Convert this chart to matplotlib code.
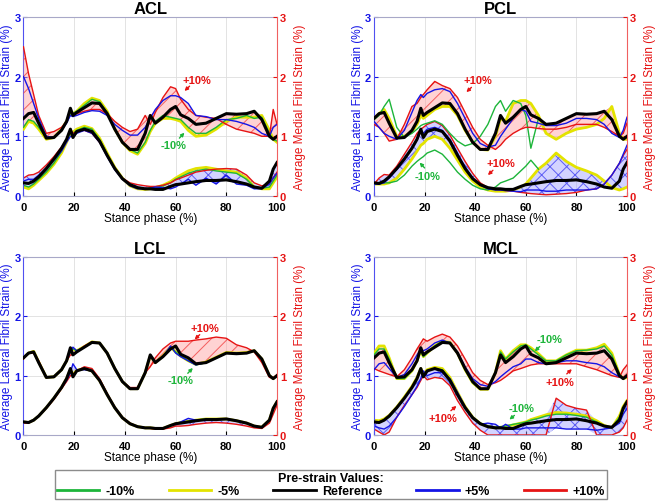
import numpy as np
import matplotlib
matplotlib.use('Agg')
import matplotlib.pyplot as plt
from matplotlib.lines import Line2D

plt.rcParams['font.family'] = ['Liberation Sans', 'DejaVu Sans']
plt.rcParams['font.weight'] = 'bold'
plt.rcParams['hatch.linewidth'] = 0.7

# stance phase sample points (%)
stance = [0, 2, 4, 6, 9, 12, 15, 17, 18.5, 19.5,
          21, 24, 27, 30, 33, 36, 39, 42, 45, 48,
          50, 52, 55, 58, 60, 62, 65, 68, 72, 76,
          80, 84, 88, 91, 94, 97, 98.5, 100]

# reference model (same in every panel)
ref_med = [1.30, 1.38, 1.40, 1.22, 0.97, 0.98, 1.10, 1.25, 1.47, 1.35,
           1.40, 1.48, 1.56, 1.55, 1.38, 1.12, 0.90, 0.78, 0.78, 1.05,
           1.35, 1.22, 1.32, 1.45, 1.50, 1.36, 1.30, 1.20, 1.22, 1.30,
           1.38, 1.37, 1.38, 1.42, 1.28, 1.00, 0.95, 1.00]
ref_lat = [0.22, 0.21, 0.25, 0.32, 0.46, 0.62, 0.80, 0.95, 1.12, 0.98,
           1.08, 1.12, 1.08, 0.92, 0.68, 0.46, 0.29, 0.19, 0.14, 0.12,
           0.12, 0.11, 0.11, 0.16, 0.19, 0.20, 0.22, 0.24, 0.26, 0.26,
           0.27, 0.24, 0.20, 0.15, 0.13, 0.25, 0.45, 0.56]

# ---- ACL
acl_med_m10 = [1.15, 1.28, 1.25, 1.15, 0.97, 0.98, 1.12, 1.25, 1.38, 1.38,
               1.42, 1.52, 1.62, 1.58, 1.40, 1.12, 0.90, 0.78, 0.72, 0.90,
               1.10, 1.25, 1.35, 1.32, 1.30, 1.28, 1.15, 1.05, 1.05, 1.15,
               1.28, 1.30, 1.35, 1.30, 1.32, 1.05, 0.95, 0.92]
acl_med_m5 = [1.12, 1.25, 1.22, 1.12, 0.95, 0.98, 1.12, 1.25, 1.40, 1.38,
              1.42, 1.55, 1.64, 1.60, 1.42, 1.12, 0.90, 0.76, 0.70, 0.88,
              1.08, 1.22, 1.30, 1.30, 1.28, 1.25, 1.10, 1.00, 1.02, 1.12,
              1.25, 1.32, 1.32, 1.32, 1.35, 1.10, 0.95, 0.90]
acl_med_p5 = [2.00, 1.80, 1.55, 1.30, 1.00, 0.98, 1.10, 1.22, 1.35, 1.33,
              1.35, 1.40, 1.43, 1.42, 1.35, 1.20, 1.10, 1.02, 1.02, 1.15,
              1.30, 1.45, 1.60, 1.68, 1.68, 1.65, 1.55, 1.35, 1.33, 1.28,
              1.28, 1.25, 1.20, 1.15, 1.05, 1.00, 1.15, 1.20]
acl_med_p10 = [2.50, 2.05, 1.70, 1.35, 1.05, 1.08, 1.15, 1.25, 1.42, 1.38,
               1.38, 1.42, 1.45, 1.45, 1.38, 1.25, 1.15, 1.08, 1.12, 1.35,
               1.20, 1.40, 1.65, 1.83, 1.80, 1.62, 1.45, 1.35, 1.32, 1.30,
               1.20, 1.12, 1.08, 1.05, 1.00, 1.00, 1.45, 1.20]
acl_lat_m10 = [0.18, 0.15, 0.20, 0.28, 0.40, 0.55, 0.75, 0.92, 1.05, 1.05,
               1.10, 1.15, 1.12, 0.95, 0.70, 0.47, 0.30, 0.18, 0.13, 0.12,
               0.13, 0.14, 0.17, 0.22, 0.28, 0.32, 0.38, 0.42, 0.45, 0.42,
               0.40, 0.38, 0.28, 0.15, 0.13, 0.15, 0.25, 0.35]
acl_lat_m5 = [0.15, 0.12, 0.18, 0.26, 0.38, 0.53, 0.72, 0.90, 1.05, 1.07,
              1.12, 1.17, 1.13, 0.97, 0.72, 0.48, 0.30, 0.17, 0.12, 0.11,
              0.12, 0.14, 0.18, 0.24, 0.30, 0.35, 0.42, 0.46, 0.48, 0.45,
              0.42, 0.40, 0.30, 0.15, 0.12, 0.12, 0.22, 0.32]
acl_lat_p5 = [0.25, 0.28, 0.28, 0.35, 0.47, 0.60, 0.75, 0.90, 1.00, 1.00,
              1.05, 1.10, 1.05, 0.90, 0.66, 0.44, 0.28, 0.17, 0.12, 0.12,
              0.13, 0.15, 0.14, 0.12, 0.15, 0.20, 0.28, 0.18, 0.30, 0.20,
              0.35, 0.20, 0.18, 0.12, 0.12, 0.20, 0.30, 0.38]
acl_lat_p10 = [0.30, 0.35, 0.36, 0.40, 0.52, 0.66, 0.82, 0.95, 1.12, 1.05,
               1.08, 1.10, 1.05, 0.90, 0.68, 0.46, 0.30, 0.22, 0.19, 0.17,
               0.16, 0.16, 0.18, 0.22, 0.27, 0.30, 0.35, 0.40, 0.43, 0.45,
               0.46, 0.45, 0.35, 0.22, 0.17, 0.20, 0.30, 0.40]

# ---- PCL (-10% run stops at 65 %)
pcl_med_m10 = [1.28, 1.35, 1.50, 1.62, 1.15, 0.98, 1.05, 1.12, 1.18, 1.20,
               1.22, 1.26, 1.20, 1.05, 0.92, 0.84, 0.88, 1.00, 1.20, 1.50,
               1.60, 1.42, 1.60, 1.55, 1.35, 0.80, 1.30, np.nan, np.nan, np.nan,
               np.nan, np.nan, np.nan, np.nan, np.nan, np.nan, np.nan, np.nan]
pcl_med_m5 = [1.30, 1.38, 1.45, 1.30, 1.00, 1.00, 1.08, 1.20, 1.35, 1.30,
              1.35, 1.45, 1.50, 1.50, 1.35, 1.10, 0.90, 0.78, 0.77, 1.00,
              1.30, 1.25, 1.55, 1.60, 1.60, 1.55, 1.35, 1.05, 0.95, 1.05,
              1.12, 1.15, 1.20, 1.30, 1.50, 1.05, 0.95, 0.95]
pcl_med_p5 = [1.25, 1.15, 1.05, 1.00, 0.95, 1.10, 1.40, 1.60, 1.70, 1.65,
              1.72, 1.78, 1.80, 1.75, 1.55, 1.30, 1.05, 0.88, 0.82, 0.85,
              1.00, 1.12, 1.30, 1.45, 1.42, 1.25, 1.22, 1.18, 1.18, 1.22,
              1.30, 1.30, 1.28, 1.20, 1.05, 0.98, 1.10, 1.32]
pcl_med_p10 = [1.20, 1.15, 1.05, 0.92, 0.95, 1.20, 1.50, 1.55, 1.65, 1.70,
               1.78, 1.92, 1.85, 1.80, 1.65, 1.40, 1.15, 0.95, 0.85, 0.78,
               0.85, 0.95, 1.05, 1.12, 1.15, 1.15, 1.13, 1.12, 1.12, 1.15,
               1.20, 1.20, 1.20, 1.15, 1.08, 1.00, 1.05, 1.22]
pcl_lat_m10 = [0.20, 0.20, 0.22, 0.22, 0.25, 0.35, 0.50, 0.58, 0.63, 0.66,
               0.72, 0.77, 0.70, 0.56, 0.40, 0.28, 0.18, 0.12, 0.10, 0.15,
               0.22, 0.25, 0.30, 0.42, 0.50, 0.60, 0.45, np.nan, np.nan, np.nan,
               np.nan, np.nan, np.nan, np.nan, np.nan, np.nan, np.nan, np.nan]
pcl_lat_m5 = [0.20, 0.20, 0.20, 0.22, 0.30, 0.45, 0.62, 0.75, 0.85, 0.88,
              0.95, 1.00, 0.95, 0.80, 0.60, 0.40, 0.25, 0.15, 0.10, 0.08,
              0.08, 0.08, 0.10, 0.15, 0.20, 0.30, 0.45, 0.55, 0.72, 0.58,
              0.48, 0.42, 0.35, 0.25, 0.14, 0.10, 0.12, 0.15]
pcl_lat_p5 = [0.20, 0.20, 0.22, 0.30, 0.45, 0.62, 0.82, 0.95, 1.10, 1.05,
              1.12, 1.15, 1.10, 0.95, 0.72, 0.48, 0.30, 0.18, 0.12, 0.10,
              0.10, 0.09, 0.08, 0.07, 0.10, 0.10, 0.10, 0.08, 0.08, 0.10,
              0.10, 0.10, 0.12, 0.20, 0.35, 0.55, 0.70, 0.85]
pcl_lat_p10 = [0.20, 0.30, 0.36, 0.35, 0.50, 0.70, 0.90, 1.05, 1.12, 1.15,
               1.20, 1.25, 1.18, 1.02, 0.80, 0.58, 0.38, 0.22, 0.14, 0.11,
               0.10, 0.09, 0.08, 0.06, 0.05, 0.04, 0.03, 0.02, 0.03, 0.04,
               0.06, 0.10, 0.12, 0.20, 0.35, 0.55, 0.68, 0.78]

# ---- LCL
lcl_med_m10 = [1.30, 1.38, 1.40, 1.22, 0.97, 0.98, 1.10, 1.25, 1.42, 1.45,
               1.42, 1.48, 1.56, 1.55, 1.38, 1.12, 0.90, 0.78, 0.78, 1.05,
               1.33, 1.22, 1.32, 1.48, 1.40, 1.33, 1.25, 1.18, 1.22, 1.30,
               1.38, 1.38, 1.38, 1.42, 1.28, 1.00, 0.95, 1.00]
lcl_med_m5 = [1.30, 1.38, 1.41, 1.23, 0.97, 0.98, 1.10, 1.25, 1.42, 1.45,
              1.42, 1.49, 1.57, 1.55, 1.38, 1.12, 0.90, 0.78, 0.78, 1.05,
              1.33, 1.22, 1.33, 1.48, 1.40, 1.33, 1.25, 1.19, 1.23, 1.31,
              1.39, 1.38, 1.39, 1.42, 1.28, 1.00, 0.95, 1.00]
lcl_med_p5 = [1.30, 1.38, 1.40, 1.22, 0.97, 0.98, 1.10, 1.25, 1.40, 1.48,
              1.42, 1.48, 1.56, 1.55, 1.38, 1.12, 0.90, 0.78, 0.78, 1.05,
              1.32, 1.22, 1.32, 1.50, 1.38, 1.32, 1.25, 1.18, 1.22, 1.30,
              1.38, 1.38, 1.38, 1.42, 1.28, 1.00, 0.95, 1.00]
lcl_med_p10 = [1.28, 1.38, 1.38, 1.25, 0.97, 0.98, 1.10, 1.25, 1.35, 1.35,
               1.40, 1.50, 1.57, 1.55, 1.38, 1.12, 0.90, 0.80, 0.80, 1.05,
               1.15, 1.30, 1.45, 1.55, 1.58, 1.58, 1.58, 1.60, 1.62, 1.65,
               1.63, 1.52, 1.47, 1.40, 1.22, 0.97, 0.96, 1.02]
lcl_lat_m10 = [0.22, 0.21, 0.25, 0.32, 0.46, 0.62, 0.80, 0.95, 1.10, 1.00,
               1.08, 1.12, 1.08, 0.92, 0.68, 0.46, 0.29, 0.19, 0.14, 0.12,
               0.12, 0.11, 0.11, 0.16, 0.19, 0.21, 0.23, 0.25, 0.27, 0.27,
               0.27, 0.24, 0.20, 0.15, 0.13, 0.25, 0.45, 0.56]
lcl_lat_m5 = [0.22, 0.21, 0.25, 0.32, 0.46, 0.62, 0.80, 0.95, 1.10, 1.02,
              1.09, 1.12, 1.08, 0.92, 0.68, 0.46, 0.29, 0.19, 0.14, 0.12,
              0.12, 0.11, 0.11, 0.16, 0.19, 0.21, 0.23, 0.25, 0.27, 0.27,
              0.27, 0.24, 0.20, 0.15, 0.13, 0.25, 0.45, 0.56]
lcl_lat_p5 = [0.22, 0.21, 0.25, 0.32, 0.46, 0.62, 0.80, 0.92, 1.05, 1.20,
              1.10, 1.10, 1.08, 0.92, 0.68, 0.46, 0.29, 0.19, 0.14, 0.12,
              0.12, 0.11, 0.11, 0.16, 0.19, 0.22, 0.28, 0.25, 0.26, 0.26,
              0.27, 0.24, 0.20, 0.15, 0.13, 0.25, 0.45, 0.56]
lcl_lat_p10 = [0.20, 0.20, 0.25, 0.32, 0.45, 0.60, 0.78, 0.90, 1.00, 1.02,
               1.08, 1.15, 1.12, 0.95, 0.70, 0.47, 0.30, 0.20, 0.14, 0.12,
               0.11, 0.10, 0.10, 0.12, 0.15, 0.15, 0.16, 0.18, 0.20, 0.21,
               0.20, 0.18, 0.15, 0.12, 0.11, 0.20, 0.35, 0.50]

# ---- MCL
mcl_med_m10 = [1.35, 1.45, 1.45, 1.28, 0.95, 0.95, 1.08, 1.25, 1.42, 1.32,
               1.38, 1.50, 1.58, 1.56, 1.38, 1.10, 0.88, 0.77, 0.77, 1.05,
               1.40, 1.28, 1.40, 1.50, 1.52, 1.45, 1.35, 1.25, 1.25, 1.35,
               1.42, 1.43, 1.45, 1.50, 1.35, 1.02, 0.95, 0.98]
mcl_med_m5 = [1.38, 1.50, 1.50, 1.30, 0.95, 0.95, 1.08, 1.25, 1.42, 1.32,
              1.38, 1.50, 1.58, 1.56, 1.38, 1.10, 0.88, 0.77, 0.77, 1.05,
              1.42, 1.28, 1.42, 1.52, 1.52, 1.47, 1.37, 1.25, 1.25, 1.35,
              1.43, 1.43, 1.47, 1.53, 1.38, 1.02, 0.95, 0.97]
mcl_med_p5 = [1.10, 1.20, 1.22, 1.12, 0.97, 1.02, 1.20, 1.35, 1.45, 1.42,
              1.45, 1.55, 1.60, 1.55, 1.40, 1.15, 0.95, 0.85, 0.82, 0.90,
              0.98, 1.05, 1.15, 1.20, 1.28, 1.28, 1.22, 1.20, 1.22, 1.25,
              1.25, 1.22, 1.20, 1.15, 1.05, 0.98, 0.95, 1.00]
mcl_med_p10 = [1.12, 1.08, 1.05, 1.02, 0.98, 1.10, 1.30, 1.45, 1.55, 1.62,
               1.58, 1.65, 1.70, 1.65, 1.50, 1.28, 1.05, 0.92, 0.85, 0.88,
               0.92, 0.98, 1.08, 1.12, 1.15, 1.18, 1.20, 1.20, 1.20, 1.20,
               1.20, 1.15, 1.10, 1.05, 1.00, 0.97, 1.10, 1.18]
mcl_lat_m10 = [0.22, 0.22, 0.25, 0.30, 0.45, 0.62, 0.80, 0.95, 1.10, 1.00,
               1.08, 1.12, 1.10, 0.95, 0.70, 0.47, 0.30, 0.20, 0.15, 0.13,
               0.14, 0.15, 0.18, 0.20, 0.22, 0.25, 0.28, 0.32, 0.35, 0.35,
               0.33, 0.30, 0.22, 0.15, 0.12, 0.30, 0.45, 0.55]
mcl_lat_m5 = [0.25, 0.24, 0.27, 0.33, 0.47, 0.64, 0.82, 0.97, 1.12, 1.02,
              1.10, 1.14, 1.12, 0.97, 0.72, 0.48, 0.30, 0.19, 0.14, 0.12,
              0.13, 0.14, 0.17, 0.20, 0.22, 0.26, 0.30, 0.34, 0.38, 0.37,
              0.35, 0.32, 0.24, 0.16, 0.12, 0.32, 0.48, 0.58]
mcl_lat_p5 = [0.15, 0.12, 0.10, 0.15, 0.30, 0.48, 0.68, 0.82, 0.95, 1.08,
              1.00, 1.05, 1.05, 0.95, 0.72, 0.48, 0.30, 0.18, 0.20, 0.18,
              0.12, 0.18, 0.10, 0.10, 0.12, 0.12, 0.12, 0.12, 0.12, 0.10,
              0.10, 0.10, 0.08, 0.10, 0.12, 0.20, 0.35, 0.45]
mcl_lat_p10 = [0.10, 0.05, 0.00, 0.05, 0.30, 0.50, 0.68, 0.80, 0.92, 1.00,
               0.93, 0.97, 0.95, 0.83, 0.58, 0.38, 0.20, 0.08, 0.00, 0.00,
               0.00, 0.00, 0.00, 0.00, 0.00, 0.00, 0.00, 0.00, 0.62, 0.50,
               0.45, 0.42, 0.00, 0.00, 0.00, 0.05, 0.12, 0.25]

level_names = ['-10%', '-5%', 'Reference', '+5%', '+10%']

GREEN = '#1db53a'
YELLOW = '#e3e300'
BLUE = '#1414e6'
RED = '#e61414'
level_colors = [GREEN, YELLOW, 'black', BLUE, RED]

panels = {
    'ACL': ([acl_lat_m10, acl_lat_m5, ref_lat, acl_lat_p5, acl_lat_p10],
            [acl_med_m10, acl_med_m5, ref_med, acl_med_p5, acl_med_p10]),
    'PCL': ([pcl_lat_m10, pcl_lat_m5, ref_lat, pcl_lat_p5, pcl_lat_p10],
            [pcl_med_m10, pcl_med_m5, ref_med, pcl_med_p5, pcl_med_p10]),
    'LCL': ([lcl_lat_m10, lcl_lat_m5, ref_lat, lcl_lat_p5, lcl_lat_p10],
            [lcl_med_m10, lcl_med_m5, ref_med, lcl_med_p5, lcl_med_p10]),
    'MCL': ([mcl_lat_m10, mcl_lat_m5, ref_lat, mcl_lat_p5, mcl_lat_p10],
            [mcl_med_m10, mcl_med_m5, ref_med, mcl_med_p5, mcl_med_p10]),
}

# axes rectangles [left, bottom, width, height] in figure fraction
rects = {
    'ACL': [0.0357, 0.6076, 0.3853, 0.3566],
    'PCL': [0.5684, 0.6076, 0.3845, 0.3566],
    'LCL': [0.0357, 0.1315, 0.3853, 0.3546],
    'MCL': [0.5684, 0.1315, 0.3845, 0.3546],
}

# (label, colour, text position, arrow tail, arrow tip)
notes = {
    'ACL': [('+10%', RED, (68.5, 1.95), (65.5, 1.84), (63.5, 1.76)),
            ('-10%', GREEN, (59, 0.85), (61.5, 0.97), (63.5, 1.06))],
    'PCL': [('+10%', RED, (41, 1.94), (38.5, 1.82), (36.5, 1.74)),
            ('+10%', RED, (50, 0.55), (47, 0.43), (45, 0.35)),
            ('-10%', GREEN, (21.3, 0.34), (20, 0.47), (18, 0.56))],
    'LCL': [('+10%', RED, (71.7, 1.81), (69.5, 1.69), (67.5, 1.61)),
            ('-10%', GREEN, (61.8, 0.92), (64.8, 1.04), (66.8, 1.13))],
    'MCL': [('-10%', GREEN, (69.5, 1.62), (65.5, 1.49), (63.5, 1.41)),
            ('+10%', RED, (73.4, 0.89), (76.2, 1.03), (78.2, 1.11)),
            ('+10%', RED, (27.4, 0.28), (30.4, 0.41), (32.6, 0.49)),
            ('-10%', GREEN, (58.3, 0.45), (55.5, 0.33), (53.5, 0.26))],
}


def draw_group(ax, curves, face, hatch_col, hatch):
    x = np.array(stance)
    ys = [np.array(c, dtype=float) for c in curves]
    # shaded band: envelope of the -5 % .. +10 % runs
    band = np.vstack(ys[1:])
    ax.fill_between(x, band.min(axis=0), band.max(axis=0), facecolor=face,
                    edgecolor=hatch_col, hatch=hatch, linewidth=0, zorder=1)
    # draw order: yellow underneath, black reference on top
    for i, lw in [(1, 2.0), (0, 1.0), (4, 1.0), (3, 1.0), (2, 2.2)]:
        ax.plot(x, ys[i], color=level_colors[i], lw=lw, zorder=2 + (i == 2))


fig = plt.figure(figsize=(6.58, 5.02), dpi=100)

for name, (lat, med) in panels.items():
    ax = fig.add_axes(rects[name])
    ax2 = ax.twinx()

    draw_group(ax, lat, (0.62, 0.62, 1.0, 0.45), (0.25, 0.25, 0.95, 0.8), 'xx')
    draw_group(ax2, med, (1.0, 0.62, 0.62, 0.45), (0.95, 0.25, 0.25, 0.8), '//')

    for a in (ax, ax2):
        a.set_xlim(0, 100)
        a.set_ylim(0, 3)
        a.set_yticks([0, 1, 2, 3])
        a.tick_params(direction='in', length=3, labelsize=8, pad=2)
    ax.set_xticks([0, 20, 40, 60, 80, 100])
    ax.tick_params(axis='x', pad=4.5)
    ax.grid(True, color='#dedede', lw=0.6)
    ax.set_axisbelow(True)

    ax.tick_params(axis='y', colors=BLUE)
    ax2.tick_params(axis='y', colors=RED)
    for s in ('top', 'bottom'):
        ax.spines[s].set_color('#a8a8c8')
        ax2.spines[s].set_visible(False)
    ax.spines['left'].set_color('#5050f0')
    ax.spines['right'].set_visible(False)
    ax2.spines['left'].set_visible(False)
    ax2.spines['right'].set_color('#f06060')

    ax.set_ylabel('Average Lateral Fibril Strain (%)', color=BLUE,
                  fontsize=8.5, labelpad=1)
    ax2.set_ylabel('Average Medial Fibril Strain (%)', color=RED,
                   fontsize=8.5, labelpad=6)
    ax.set_xlabel('Stance phase (%)', fontsize=8.5, labelpad=0)
    ax.set_title(name, fontsize=12, fontweight='bold', pad=3)

    for label, col, txt, tail, tip in notes[name]:
        ax2.text(txt[0], txt[1], label, color=col, fontsize=8,
                 ha='center', va='center', zorder=5)
        ax2.annotate('', xy=tip, xytext=tail, zorder=5,
                     arrowprops=dict(arrowstyle='-|>', color=col, lw=1,
                                     mutation_scale=5, shrinkA=0, shrinkB=0))

handles = [Line2D([], [], color=c, lw=2) for c in level_colors]
leg = fig.legend(handles, level_names, loc='lower center',
                 bbox_to_anchor=(0.503, 0.0), ncol=5, fontsize=9,
                 title='Pre-strain Values:',
                 title_fontproperties={'weight': 'bold', 'size': 9},
                 handlelength=3.4, columnspacing=2.7, handletextpad=0.5,
                 borderpad=0.15, labelspacing=0.1, borderaxespad=0.15,
                 fancybox=False, edgecolor='#8c8c8c', framealpha=1)
leg.get_frame().set_linewidth(1.0)

fig.savefig('out.png', dpi=100)
